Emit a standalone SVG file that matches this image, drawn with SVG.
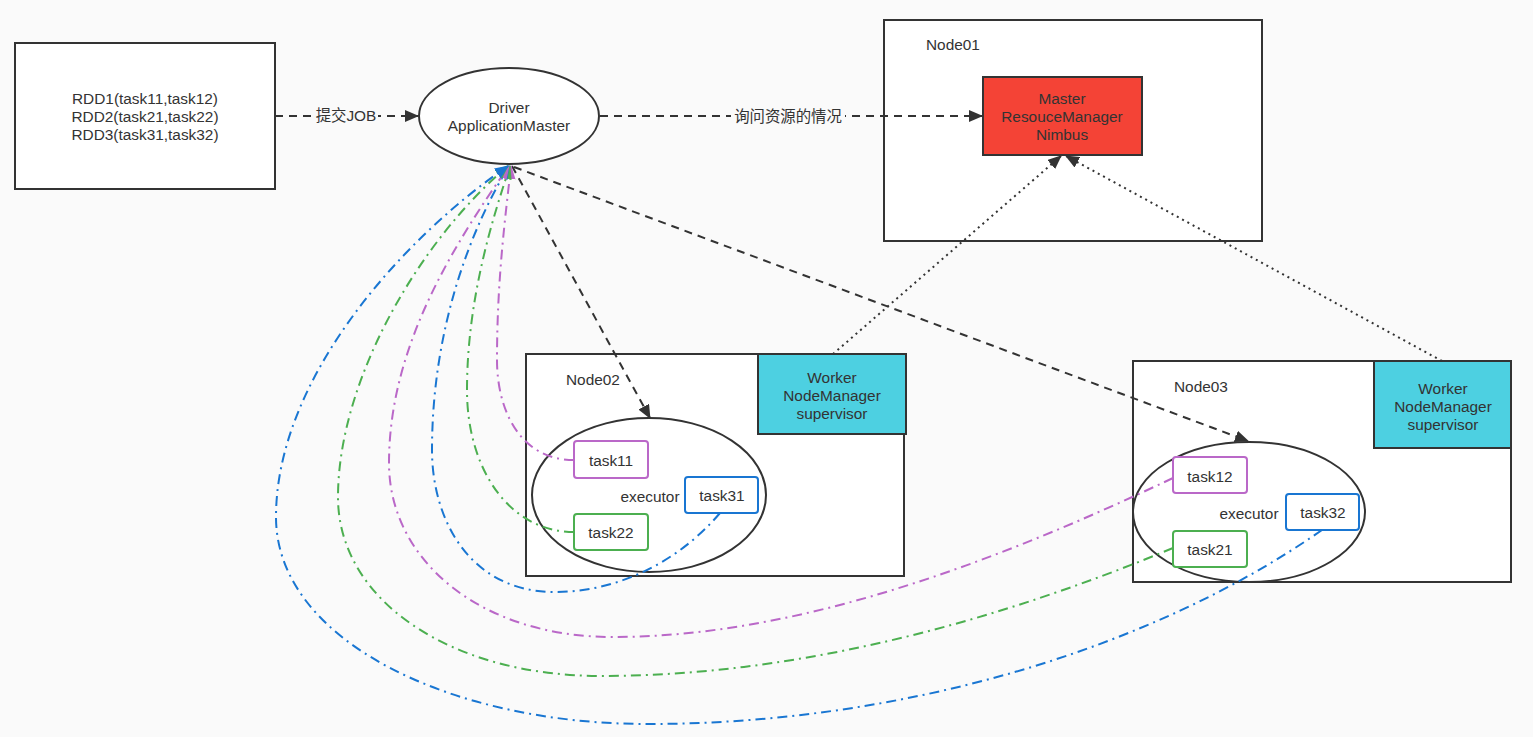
<svg xmlns="http://www.w3.org/2000/svg" width="1533" height="737" viewBox="0 0 1533 737">
<defs>
<style>
.box{fill:#fff;stroke:#333;stroke-width:2}
.t{font-family:"Liberation Sans","Noto Sans CJK SC",sans-serif;font-size:15.4px;fill:#333}
.c{text-anchor:middle}
.task{fill:#fff;stroke-width:2}
.dash{fill:none;stroke:#333;stroke-width:2;stroke-dasharray:8 6}
.dot{fill:none;stroke:#333;stroke-width:2;stroke-dasharray:2 4}
.dd{fill:none;stroke-width:2;stroke-dasharray:10 5 2 5}
</style>
<marker id="ak" markerUnits="userSpaceOnUse" markerWidth="14" markerHeight="12" viewBox="0 0 14 12" refX="13" refY="6" orient="auto"><path d="M0,0 L14,6 L0,12 Z" fill="#333"/></marker>
<marker id="ap" markerUnits="userSpaceOnUse" markerWidth="14" markerHeight="12" viewBox="0 0 14 12" refX="13" refY="6" orient="auto"><path d="M0,0 L14,6 L0,12 Z" fill="#BA68C8"/></marker>
<marker id="ag" markerUnits="userSpaceOnUse" markerWidth="14" markerHeight="12" viewBox="0 0 14 12" refX="13" refY="6" orient="auto"><path d="M0,0 L14,6 L0,12 Z" fill="#4CAF50"/></marker>
<marker id="ab" markerUnits="userSpaceOnUse" markerWidth="14" markerHeight="12" viewBox="0 0 14 12" refX="13" refY="6" orient="auto"><path d="M0,0 L14,6 L0,12 Z" fill="#1976D2"/></marker>
</defs>
<rect x="0" y="0" width="1533" height="737" fill="#FAFAFA"/>

<g id="rdd">
<rect class="box" x="15" y="43" width="260" height="146"/>
<text class="t c" x="145" y="104">RDD1(task11,task12)</text>
<text class="t c" x="145" y="122">RDD2(task21,task22)</text>
<text class="t c" x="145" y="140">RDD3(task31,task32)</text>
</g>

<g id="driver">
<ellipse class="box" cx="509" cy="116" rx="90" ry="48"/>
<text class="t c" x="509" y="113">Driver</text>
<text class="t c" x="509" y="131">ApplicationMaster</text>
</g>

<g id="node01">
<rect class="box" x="884" y="20" width="378" height="221"/>
<text class="t" x="926" y="50">Node01</text>
</g>
<g id="master">
<rect x="983" y="77" width="159" height="78" fill="#F44336" stroke="#333" stroke-width="2"/>
<text class="t c" x="1062" y="104">Master</text>
<text class="t c" x="1062" y="122">ResouceManager</text>
<text class="t c" x="1062" y="140">Nimbus</text>
</g>

<g id="node02">
<rect class="box" x="526" y="354" width="378" height="222"/>
<text class="t" x="566" y="385">Node02</text>
</g>
<g id="worker02">
<rect x="758" y="354" width="148" height="80" fill="#4DD0E1" stroke="#333" stroke-width="2"/>
<text class="t c" x="832" y="383">Worker</text>
<text class="t c" x="832" y="401">NodeManager</text>
<text class="t c" x="832" y="419">supervisor</text>
</g>
<g id="executor02">
<ellipse class="box" cx="649" cy="495" rx="117" ry="77"/>
<text class="t c" x="650" y="502">executor</text>
</g>
<g id="task11">
<rect class="task" x="574" y="441" width="74" height="37" rx="3" stroke="#BA68C8"/>
<text class="t c" x="611" y="466">task11</text>
</g>
<g id="task31">
<rect class="task" x="685" y="477" width="73" height="36" rx="3" stroke="#1976D2"/>
<text class="t c" x="722" y="501">task31</text>
</g>
<g id="task22">
<rect class="task" x="574" y="514" width="74" height="36" rx="3" stroke="#4CAF50"/>
<text class="t c" x="611" y="538">task22</text>
</g>

<g id="node03">
<rect class="box" x="1133" y="361" width="378" height="221"/>
<text class="t" x="1174" y="392">Node03</text>
</g>
<g id="worker03">
<rect x="1374" y="361" width="137" height="87" fill="#4DD0E1" stroke="#333" stroke-width="2"/>
<text class="t c" x="1443" y="394">Worker</text>
<text class="t c" x="1443" y="412">NodeManager</text>
<text class="t c" x="1443" y="430">supervisor</text>
</g>
<g id="executor03">
<ellipse class="box" cx="1249" cy="512" rx="116" ry="70"/>
<text class="t c" x="1249" y="519">executor</text>
</g>
<g id="task12">
<rect class="task" x="1173" y="457" width="74" height="36" rx="3" stroke="#BA68C8"/>
<text class="t c" x="1210" y="482">task12</text>
</g>
<g id="task32">
<rect class="task" x="1286" y="494" width="73" height="36" rx="3" stroke="#1976D2"/>
<text class="t c" x="1323" y="518">task32</text>
</g>
<g id="task21">
<rect class="task" x="1173" y="531" width="74" height="36" rx="3" stroke="#4CAF50"/>
<text class="t c" x="1210" y="555">task21</text>
</g>

<g id="connectors">
<path class="dash" d="M275,116 L418,116" marker-end="url(#ak)"/>
<rect x="314" y="106" width="64" height="20" fill="#FAFAFA"/>
<text class="t c" x="346" y="121">提交JOB</text>
<path class="dash" d="M600,116 L982,116" marker-end="url(#ak)"/>
<rect x="731" y="107" width="114" height="20" fill="#FAFAFA"/>
<text class="t c" x="788" y="122">询问资源的情况</text>
<path class="dash" d="M512,166 L650,418" marker-end="url(#ak)"/>
<path class="dash" d="M514,167 L1248,441" marker-end="url(#ak)"/>
<path class="dot" d="M833,354 L1061,156" marker-end="url(#ak)"/>
<path class="dot" d="M1442,361 L1066,156" marker-end="url(#ak)"/>

<path class="dd" stroke="#BA68C8" d="M574,460 C520,460 497,410 497,360 C497,280 505,220 511,166" marker-end="url(#ap)"/>
<path class="dd" stroke="#4CAF50" d="M574,532 C510,532 467,470 467,390 C467,300 492,220 510,166" marker-end="url(#ag)"/>
<path class="dd" stroke="#1976D2" d="M720,513 C680,560 620,592 555,592 C470,592 432,520 432,450 C432,330 470,230 509,166" marker-end="url(#ab)"/>
<path class="dd" stroke="#BA68C8" d="M1173,478 C1000,560 800,637 613,637 C480,637 389,560 389,463 C389,350 450,250 509,166" marker-end="url(#ap)"/>
<path class="dd" stroke="#4CAF50" d="M1173,548 C1000,620 800,676 601,676 C450,676 338,600 338,497 C338,380 420,240 508,166" marker-end="url(#ag)"/>
<path class="dd" stroke="#1976D2" d="M1322,530 C1150,650 900,724 647,724 C450,724 276,640 276,517 C276,380 400,240 508,166" marker-end="url(#ab)"/>
</g>
</svg>
